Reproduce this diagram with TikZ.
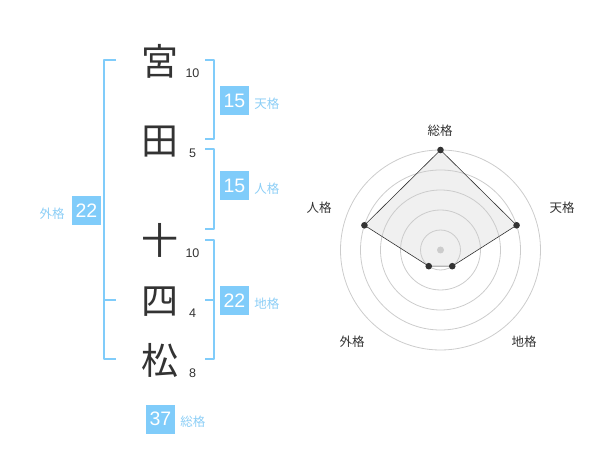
\documentclass[tikz,border=0pt]{standalone}
\usepackage{fontspec}
\setmainfont{Liberation Sans}
\newfontfamily\jp{Noto Sans CJK JP}
\usetikzlibrary{positioning}
\definecolor{sora}{RGB}{128,204,250}
\definecolor{sorat}{RGB}{140,206,246}
\definecolor{sumi}{RGB}{51,51,51}
\definecolor{hai}{RGB}{204,204,204}
\definecolor{usuzumi}{RGB}{240,240,240}
\begin{document}
\begin{tikzpicture}[x=1pt,y=-1pt,line join=round]
\useasboundingbox (0,0) rectangle (600,470);
\tikzset{
moji/.style={font=\jp\fontsize{37}{37}\selectfont,text=sumi,inner sep=0pt},
kazu/.style={font=\fontsize{12.5}{12.5}\selectfont,text=sumi,inner sep=0pt},
hako/.style={fill=sora,text=white,minimum size=29pt,inner sep=0pt,font=\fontsize{19.5}{19.5}\selectfont},
mei/.style={font=\jp\fontsize{12.5}{12.5}\selectfont,text=sorat,inner sep=0pt,yshift=-3pt},
jiku/.style={font=\jp\fontsize{12.5}{12.5}\selectfont,text=sumi,inner sep=0pt},
waku/.style={draw=sora,line width=2pt},
}
\foreach \c/\y/\n/\ny/\i in {宮/61/10/73/1,田/142/5/153/2,十/240/10/253/3,四/302/4/313/4,松/360/8/373/5}{
\node[moji] (c\i) at (160,\y) {\c};
\node[kazu] (n\i) at (192.5,\ny) {\n};
}
\draw[waku] (205,60)--(214,60)--(214,139)--(205,139);
\draw[waku] (205,149)--(214,149)--(214,229)--(205,229);
\draw[waku] (205,240)--(214,240)--(214,359)--(205,359) (205,300)--(214,300);
\draw[waku] (116,60)--(104,60)--(104,359)--(116,359) (104,300)--(116,300);
\node[hako] (ten) at (234.5,100.5) {15};
\node[hako] (jin) at (234.5,185.5) {15};
\node[hako] (chi) at (234.5,300.5) {22};
\node[hako] (gai) at (86.5,210.5) {22};
\node[hako] (sou) at (160.5,419) {37};
\node[mei,right=5pt of ten] (lten) {天格};
\node[mei,right=5pt of jin] (ljin) {人格};
\node[mei,right=5pt of chi] (lchi) {地格};
\node[mei,left=7pt of gai] (lgai) {外格};
\node[mei,right=5pt of sou] (lsou) {総格};
\begin{scope}[shift={(440.5,250)}]
\foreach \v [count=\i] in {100,80,20,20,80}
\coordinate (p\i) at ({-90+72*(\i-1)}:\v);
\fill[usuzumi] (p1)--(p2)--(p3)--(p4)--(p5)--cycle;
\foreach \r in {20,40,60,80,100}
\draw[hai,line width=0.8pt] (0,0) circle (\r pt);
\draw[sumi,line width=0.6pt] (p1)--(p2)--(p3)--(p4)--(p5)--cycle;
\foreach \i in {1,...,5}
\fill[sumi] (p\i) circle (3.3pt);
\fill[hai] (0,0) circle (3.5pt);
\foreach \t/\x/\y [count=\i] in {総格/-0.5/-119,天格/121.5/-42,地格/83.5/92,外格/-88.5/92,人格/-121.5/-42}
\node[jiku] (l\i) at (\x,\y) {\t};
\end{scope}
\end{tikzpicture}
\end{document}
